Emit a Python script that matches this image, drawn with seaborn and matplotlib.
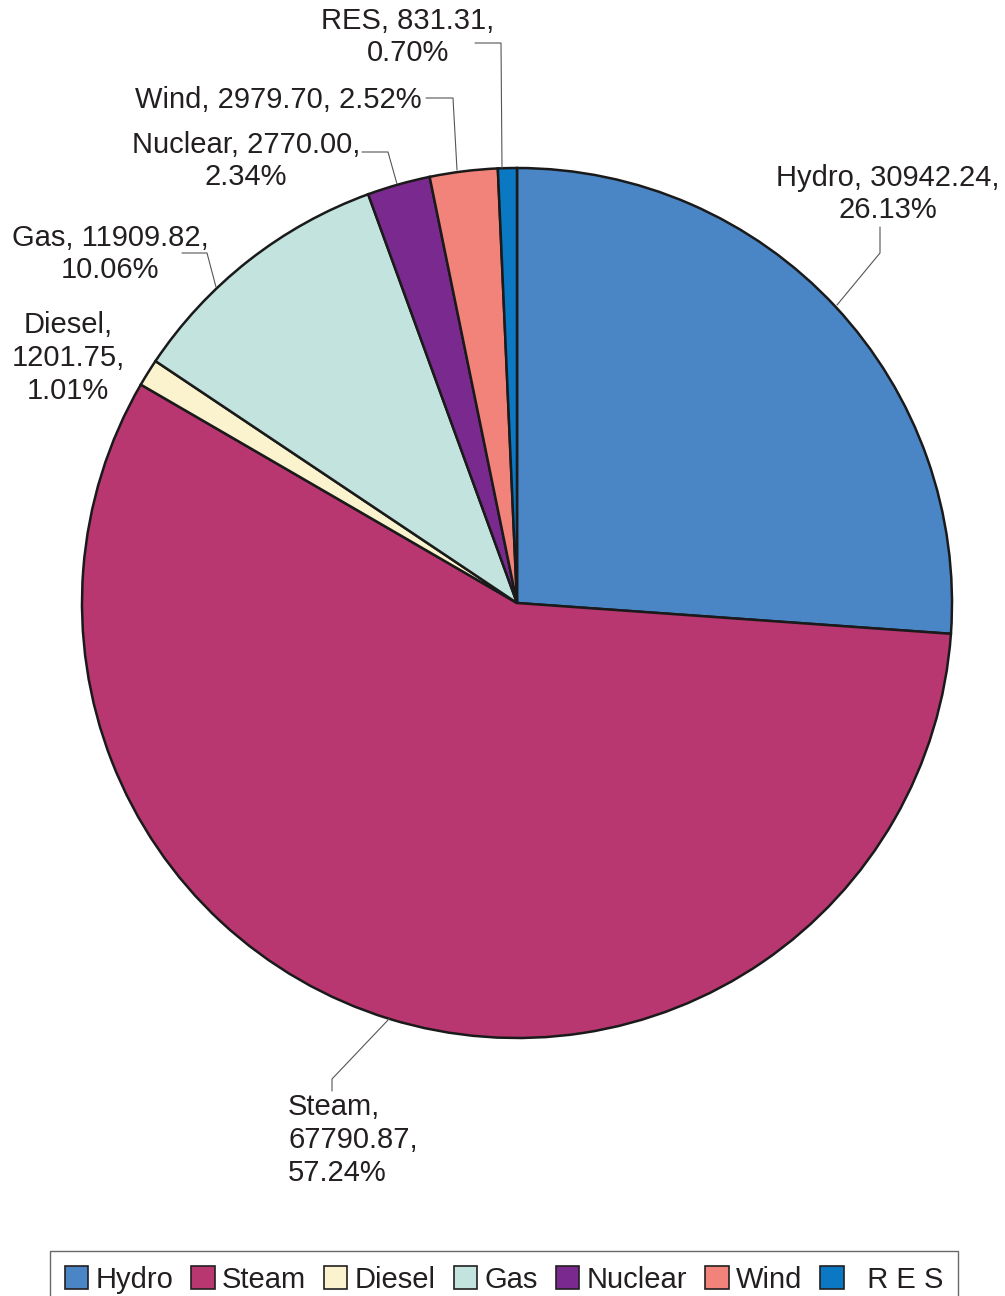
import matplotlib
matplotlib.use('Agg')
import matplotlib.pyplot as plt
from matplotlib.patches import Patch
import seaborn as sns

# Installed capacity by source (MW) and share
sources = ['Hydro', 'Steam', 'Diesel', 'Gas', 'Nuclear', 'Wind', 'RES']
capacity = [30942.24, 67790.87, 1201.75, 11909.82, 2770.00, 2979.70, 831.31]
shares = ['26.13%', '57.24%', '1.01%', '10.06%', '2.34%', '2.52%', '0.70%']
legend_names = ['Hydro', 'Steam', 'Diesel', 'Gas', 'Nuclear', 'Wind', '  R E S']
colors = sns.color_palette(['#4a86c5', '#b83770', '#faf3cd', '#c3e3df',
                            '#7a2a8e', '#f2837a', '#0a78c3'])

sns.set_theme(style='white')
plt.rcParams['font.family'] = ['Liberation Sans', 'DejaVu Sans']

W, H = 1005, 1296
fig = plt.figure(figsize=(W / 100, H / 100), dpi=100)
ax = fig.add_axes([0, 0, 1, 1])
ax.set_xlim(0, W)
ax.set_ylim(0, H)
ax.axis('off')

# pie, clockwise from the top
ax.pie(capacity, colors=colors, startangle=90, counterclock=False,
       center=(517, H - 603), radius=435,
       wedgeprops=dict(edgecolor='#1a1a1a', linewidth=1.8))
ax.set_xlim(0, W)
ax.set_ylim(0, H)
ax.set_aspect('equal')

# label layout in pixel coords (top-left origin): text pos, alignment, leader path
layout = {
    'Hydro':   ((888, 194), 'center', 'Hydro, {v},\n{p}', [(880, 227), (880, 253), (837, 305)]),
    'Steam':   ((288, 1140), 'left', 'Steam,\n{v},\n{p}', [(332, 1091), (332, 1079), (389, 1019)]),
    'Diesel':  ((68, 358), 'center', 'Diesel,\n{v},\n{p}', None),
    'Gas':     ((110, 254), 'center', 'Gas, {v},\n{p}', [(182, 253), (207, 253), (216, 287)]),
    'Nuclear': ((246, 161), 'center', 'Nuclear, {v},\n{p}', [(362, 152), (388, 152), (397, 184)]),
    'Wind':    ((278, 100), 'center', 'Wind, {v}, {p}', [(426, 98), (453, 98), (457, 170)]),
    'RES':     ((408, 37), 'center', 'RES, {v},\n{p}', [(475, 43), (501, 43), (502, 168)]),
}

for name, val, pct in zip(sources, capacity, shares):
    (tx, ty), ha, fmt, path = layout[name]
    ax.text(tx, H - ty, fmt.format(v=f'{val:.2f}', p=pct), ha=ha, va='center',
            fontsize=21, color='#231f20', linespacing=1.22, multialignment=ha)
    if path:
        ax.plot([p[0] for p in path], [H - p[1] for p in path],
                color='#555555', linewidth=0.8)

handles = [Patch(facecolor=c, edgecolor='#231f20', linewidth=1.2) for c in colors]
leg = fig.legend(handles, legend_names, loc='upper center', ncol=7,
                 bbox_to_anchor=(504 / W, 1 - 1251 / H), fontsize=21,
                 frameon=True, fancybox=False, edgecolor='#444444',
                 handlelength=0.8, handleheight=0.8, handletextpad=0.25,
                 columnspacing=0.62, borderpad=0.5, borderaxespad=0)
leg.get_frame().set_linewidth(1.0)
for t in leg.get_texts():
    t.set_color('#231f20')

fig.savefig('out.png', dpi=100)
